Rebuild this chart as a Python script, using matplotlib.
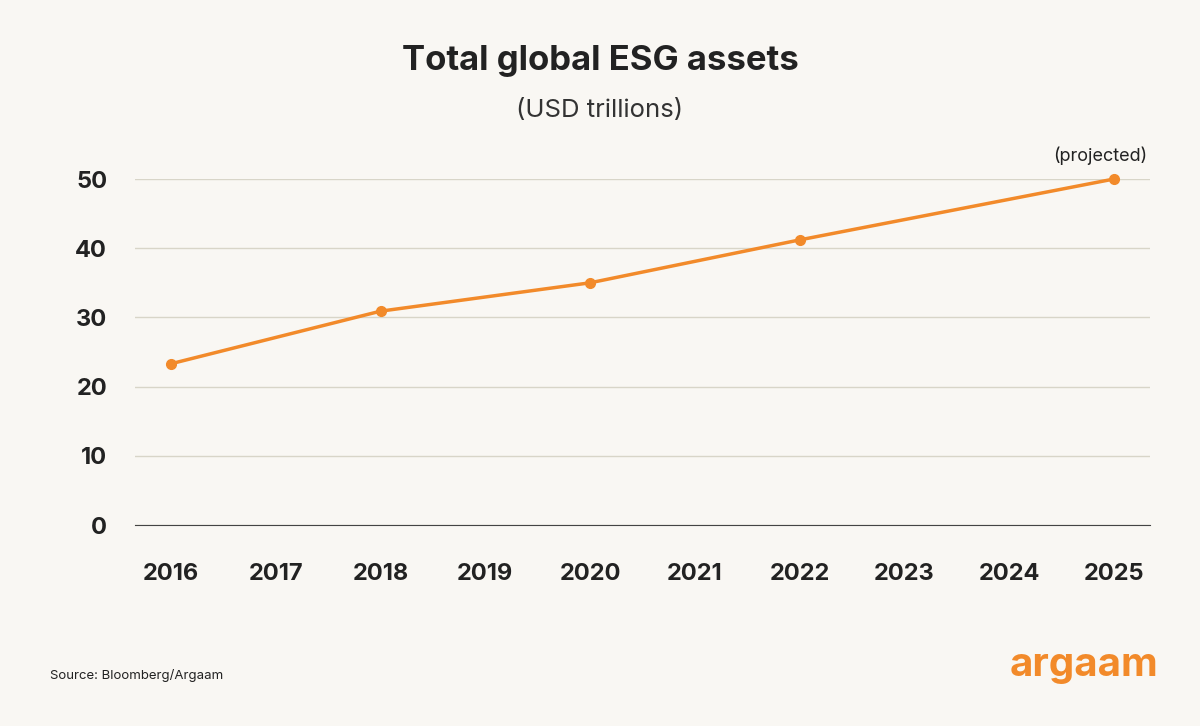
import matplotlib.pyplot as plt

plt.rcParams['font.family'] = ['Inter', 'DejaVu Sans']

years = [2016, 2018, 2020, 2022, 2025]
assets = [23.3, 30.9, 35.0, 41.2, 50.0]
tick_years = list(range(2016, 2026))
y_ticks = [0, 10, 20, 30, 40, 50]

bg = '#f9f7f3'
orange = '#f28a2a'
dark = '#222222'

fig = plt.figure(figsize=(12, 7.26), dpi=100, facecolor=bg)
ax = fig.add_axes([135/1200, 201/726, 1015/1200, 346/726], facecolor=bg)

ax.plot(years, assets, color=orange, lw=2.5, marker='o', ms=7, clip_on=False, zorder=3)
ax.set_xlim(2015.657, 2025.343)
ax.set_ylim(0, 50)
ax.set_yticks(y_ticks)
ax.set_xticks(tick_years)
ax.grid(axis='y', color='#d8d5c8', lw=1)
ax.set_axisbelow(True)
for s in ['top', 'right', 'left']:
    ax.spines[s].set_visible(False)
ax.spines['bottom'].set_color('#444444')
ax.tick_params(length=0, labelsize=17, colors=dark)
ax.tick_params(axis='x', pad=27)
ax.tick_params(axis='y', pad=20)
for lab in ax.get_xticklabels() + ax.get_yticklabels():
    lab.set_fontweight('bold')

ax.annotate('(projected)', (2025, 50), xytext=(-10, 10), textcoords='offset points',
            ha='center', va='bottom', fontsize=13, color=dark)

fig.text(0.5, 1 - 61/726, 'Total global ESG assets', ha='center', va='center',
         fontsize=25, fontweight='bold', color=dark)
fig.text(0.5, 1 - 110/726, '(USD trillions)', ha='center', va='center',
         fontsize=18.5, color='#333333')
fig.text(50/1200, 1 - 675/726, 'Source: Bloomberg/Argaam', ha='left', va='center',
         fontsize=9.5, color=dark)
fig.text(1158/1200, 1 - 665/726, 'argaam', ha='right', va='center',
         fontsize=29, fontweight='bold', color=orange)

fig.savefig('out.png', dpi=100, facecolor=bg)
